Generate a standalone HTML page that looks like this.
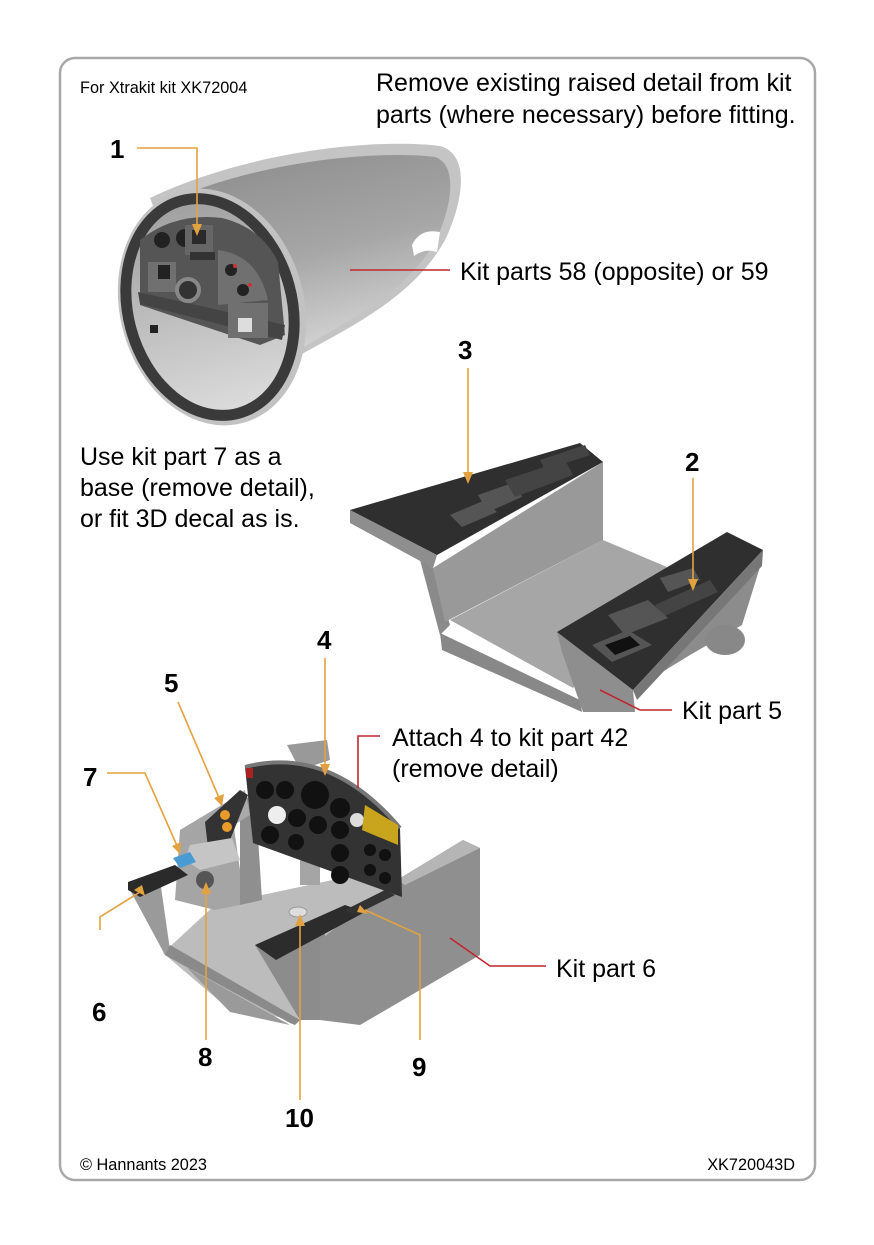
<!DOCTYPE html>
<html><head><meta charset="utf-8"><style>
body{margin:0;background:#fff;width:874px;height:1240px;overflow:hidden;font-family:"Liberation Sans",Arial,sans-serif}
svg text{font-family:"Liberation Sans",Arial,sans-serif}
</style></head><body>
<svg width="874" height="1240" viewBox="0 0 874 1240" xmlns="http://www.w3.org/2000/svg">
<defs>
<linearGradient id="cone" x1="0" y1="0" x2="0.3" y2="1">
<stop offset="0" stop-color="#8a8a8a"/><stop offset="0.5" stop-color="#a6a6a6"/><stop offset="1" stop-color="#e4e4e4"/></linearGradient>
<linearGradient id="floor" x1="0" y1="0" x2="0" y2="1">
<stop offset="0" stop-color="#a0a0a0"/><stop offset="1" stop-color="#dcdcdc"/></linearGradient>
</defs>
<rect x="60" y="58" width="755" height="1122" rx="15" fill="#fff" stroke="#a8a8a8" stroke-width="2.5"/>

<text x="80" y="93" font-size="16.3">For Xtrakit kit XK72004</text>
<text x="376" y="91" font-size="25">Remove existing raised detail from kit</text>
<text x="376" y="123" font-size="25">parts (where necessary) before fitting.</text>

<!-- Nose cone -->
<path d="M150,198 C250,150 380,138 440,146 C472,155 462,205 445,240 C415,295 355,325 300,355 L235,412 Z" fill="#c4c4c4"/>
<path d="M160,205 C255,160 380,150 435,157 C458,165 452,205 437,238 C410,290 350,320 295,352 L240,405 Z" fill="url(#cone)"/>
<path d="M412,245 Q420,228 440,232 L437,252 Q425,248 414,256 Z" fill="#fff"/>
<ellipse cx="212" cy="307" rx="92" ry="120" transform="rotate(-15 212 307)" fill="#c2c2c2"/>
<ellipse cx="210" cy="307" rx="82" ry="110" transform="rotate(-15 210 307)" fill="url(#floor)" stroke="#3a3a3a" stroke-width="11"/>
<path d="M140,240 Q175,212 222,218 Q262,228 278,262 L285,335 L260,345 L140,305 Z" fill="#555"/>
<path d="M138,292 L285,325 L282,340 L140,304 Z" fill="#444"/>
<circle cx="162" cy="240" r="8" fill="#222"/><circle cx="185" cy="238" r="9" fill="#222"/>
<rect x="185" y="225" width="28" height="30" fill="#666"/><rect x="192" y="230" width="14" height="14" fill="#2a2a2a"/>
<rect x="190" y="252" width="25" height="8" fill="#333"/>
<rect x="148" y="262" width="28" height="30" fill="#707070"/><rect x="158" y="265" width="12" height="14" fill="#222"/>
<circle cx="188" cy="290" r="11" fill="#333" stroke="#888" stroke-width="4"/>
<path d="M218,250 Q258,255 268,300 L218,305 Z" fill="#707070"/>
<circle cx="231" cy="270" r="6" fill="#222"/><circle cx="243" cy="290" r="6" fill="#222"/><circle cx="235" cy="266" r="2" fill="#c33"/><circle cx="250" cy="285" r="2" fill="#c33"/>
<rect x="228" y="303" width="40" height="35" fill="#707070"/><rect x="238" y="318" width="14" height="14" fill="#ddd"/>
<rect x="150" y="325" width="8" height="8" fill="#222"/>

<!-- Tray parts 2/3 -->
<polygon points="450,620 603,540 667,567 573,688" fill="#a6a6a6"/>
<polygon points="440,633 580,700 582,712 442,650" fill="#888"/>
<polygon points="420,560 433,568 450,625 440,635" fill="#8a8a8a"/>
<polygon points="433,568 603,462 603,540 445,622" fill="#999"/>
<polygon points="350,510 350,523 433,568 437,555" fill="#8e8e8e"/>
<polygon points="350,510 580,443 603,462 437,555" fill="#2f2f2f"/>
<polygon points="760,567 742,625 690,655 633,690" fill="#8c8c8c"/>
<ellipse cx="725" cy="640" rx="20" ry="15" fill="#888"/>
<polygon points="557,632 633,690 635,712 583,712 562,652" fill="#8e8e8e"/>
<polygon points="557,632 727,532 763,550 633,690" fill="#2f2f2f"/>
<polygon points="633,690 763,550 762,566 637,700" fill="#777"/>
<polygon points="450,515 485,500 497,512 462,527" fill="#555"/>
<polygon points="478,495 515,482 522,497 488,512" fill="#555"/>
<polygon points="505,480 565,460 573,475 515,497" fill="#444"/>
<polygon points="540,460 585,445 590,455 545,470" fill="#444"/>
<polygon points="660,578 693,568 700,580 668,592" fill="#555"/>
<polygon points="655,605 710,580 718,592 662,617" fill="#444"/>
<polygon points="608,615 648,600 668,618 625,635" fill="#555"/>
<polygon points="592,645 628,630 652,645 612,662" fill="#555"/><polygon points="605,645 630,636 640,645 615,655" fill="#111"/>

<!-- Cockpit -->
<polygon points="287,745 327,740 330,760 300,770" fill="#999"/>
<polygon points="163,953 215,905 370,872 395,905 360,960 300,1020 230,1010" fill="#bcbcbc"/>
<polygon points="130,890 160,880 170,950 230,1012 290,1025 165,955" fill="#9a9a9a"/>
<polygon points="165,955 290,1023 295,1025 300,1020 170,945" fill="#8a8a8a"/>
<polygon points="180,830 230,800 240,870 240,905 215,910 175,900" fill="#a5a5a5"/>
<polygon points="240,805 255,790 262,900 240,905" fill="#8f8f8f"/>
<polygon points="205,820 245,790 250,815 210,840" fill="#aaa"/>
<polygon points="255,945 325,915 325,1020 300,1020" fill="#8c8c8c"/>
<polygon points="320,940 397,880 463,840 480,848 480,955 360,1025 320,1020" fill="#8f8f8f"/>
<polygon points="397,880 463,840 480,848 405,885" fill="#b5b5b5"/>
<polygon points="300,840 320,840 320,885 300,885" fill="#a5a5a5"/>
<path d="M245,767 Q330,745 400,828 L402,897 L253,843 Z" fill="#333"/>
<path d="M245,767 Q330,745 400,828" fill="none" stroke="#777" stroke-width="4"/>
<g fill="#111">
<circle cx="265" cy="790" r="9"/><circle cx="285" cy="790" r="9"/><circle cx="315" cy="795" r="14"/><circle cx="340" cy="808" r="10"/>
<circle cx="277" cy="815" r="9" fill="#eee"/><circle cx="297" cy="818" r="9"/><circle cx="318" cy="825" r="9"/><circle cx="340" cy="830" r="9"/><circle cx="357" cy="820" r="7" fill="#ddd"/>
<circle cx="270" cy="835" r="9"/><circle cx="296" cy="842" r="8"/><circle cx="340" cy="853" r="9"/><circle cx="340" cy="875" r="9"/>
<circle cx="370" cy="850" r="6"/><circle cx="385" cy="855" r="6"/><circle cx="370" cy="870" r="6"/><circle cx="385" cy="878" r="6"/>
</g>
<polygon points="365,805 398,825 398,845 362,830" fill="#c9a51e"/>
<rect x="246" y="768" width="7" height="10" fill="#a22"/>
<polygon points="205,822 240,790 248,795 230,840 208,848" fill="#333"/>
<circle cx="225" cy="815" r="5" fill="#e89a2a"/><circle cx="227" cy="827" r="5" fill="#e89a2a"/>
<polygon points="190,845 232,838 240,860 200,870 185,860" fill="#c5c5c5"/>
<circle cx="205" cy="880" r="9" fill="#555"/>
<polygon points="173,858 190,852 196,862 180,868" fill="#4a9bd4"/>
<polygon points="128,882 175,865 188,875 140,897 128,890" fill="#2a2a2a"/>
<polygon points="255,945 345,905 365,912 276,960" fill="#2c2c2c"/>
<polygon points="345,910 385,890 395,895 355,915" fill="#333"/>
<ellipse cx="298" cy="912" rx="9" ry="5" fill="#ddd" stroke="#999"/>

<!-- leaders -->
<g fill="none" stroke="#e3a23f" stroke-width="1.6">
<polyline points="137,148 197,148 197,230"/>
<polyline points="468,368 468,478"/>
<polyline points="693,478 693,585"/>
<polyline points="325,658 325,770"/>
<polyline points="178,702 220,800"/>
<polyline points="107,773 145,773 178,848"/>
<polyline points="100,930 100,917 140,892"/>
<polyline points="206,1040 206,888"/>
<polyline points="420,1040 420,935 365,910"/>
<polyline points="300,1100 300,920"/>
</g>
<g fill="#e3a23f">
<polygon points="192,224 202,224 197,236"/>
<polygon points="463,472 473,472 468,484"/>
<polygon points="688,579 698,579 693,591"/>
<polygon points="320,764 330,764 325,776"/>
<polygon points="214,798 224,794 222,806"/>
<polygon points="172,846 181,842 180,854"/>
<polygon points="134,890 142,885 145,896"/>
<polygon points="201,894 211,894 206,882"/>
<polygon points="295,926 305,926 300,914"/>
<polygon points="360,905 368,914 357,912"/>
</g>
<g fill="none" stroke="#c1272d" stroke-width="1.6">
<polyline points="350,270 450,270"/>
<polyline points="600,690 640,710 672,710"/>
<polyline points="358,788 358,736 380,736"/>
<polyline points="450,938 490,966 546,966"/>
</g>

<g font-size="26" font-weight="bold">
<text x="110" y="158">1</text><text x="458" y="359">3</text><text x="685" y="471">2</text>
<text x="317" y="649">4</text><text x="164" y="692">5</text><text x="83" y="786">7</text>
<text x="92" y="1021">6</text><text x="198" y="1066">8</text><text x="412" y="1076">9</text>
<text x="285" y="1127">10</text>
</g>
<g font-size="25">
<text x="460" y="280">Kit parts 58 (opposite) or 59</text>
<text x="80" y="465">Use kit part 7 as a</text>
<text x="80" y="496">base (remove detail),</text>
<text x="80" y="527">or fit 3D decal as is.</text>
<text x="682" y="719">Kit part 5</text>
<text x="392" y="746">Attach 4 to kit part 42</text>
<text x="392" y="777">(remove detail)</text>
<text x="556" y="977">Kit part 6</text>
</g>
<text x="80" y="1170" font-size="16.3">© Hannants 2023</text>
<text x="795" y="1170" font-size="16.3" text-anchor="end">XK720043D</text>
</svg>
</body></html>
